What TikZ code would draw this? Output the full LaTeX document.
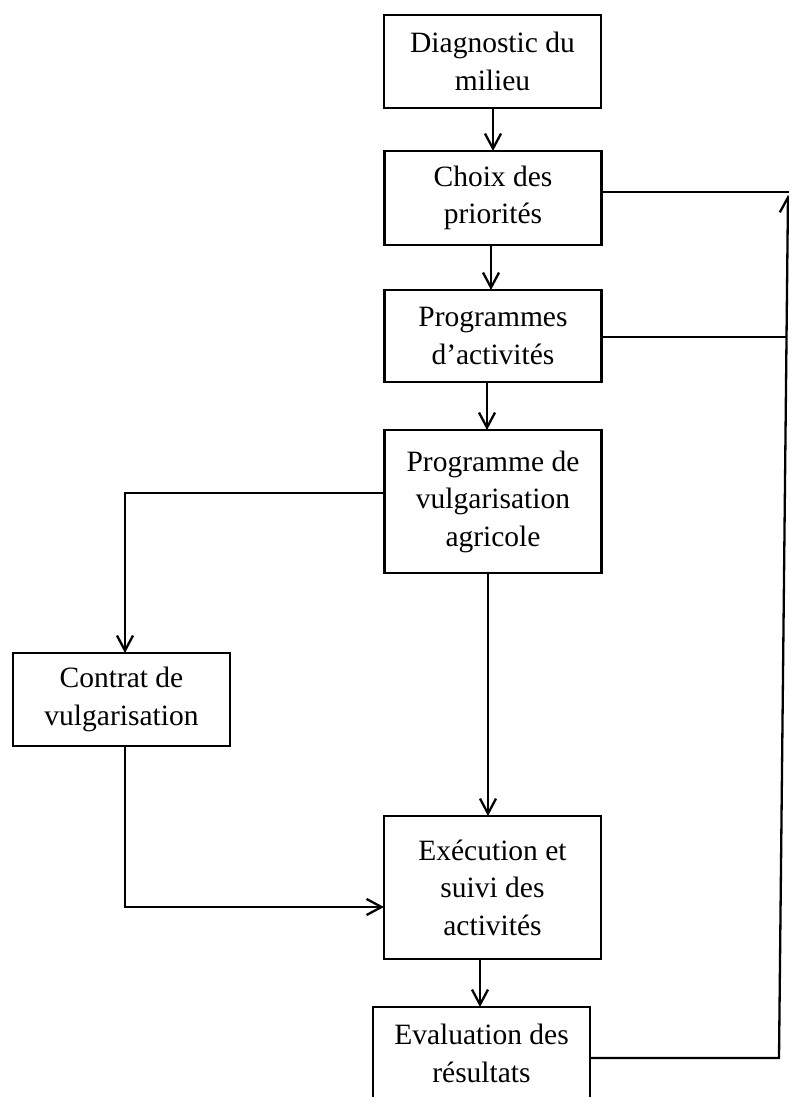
\documentclass[tikz,border=0pt]{standalone}
\usepackage{fontspec}
\setmainfont{Liberation Serif}
\usetikzlibrary{arrows.meta}
\begin{document}
\begin{tikzpicture}[x=1pt,y=-1pt,
  stepbox/.style={draw, line width=2.3pt, inner sep=0pt, outer sep=0pt,
    minimum width=217pt, align=center,
    font=\fontsize{29.5}{37.5}\selectfont},
  link/.style={line width=2.3pt},
  arr/.style={link, -{Straight Barb[length=15pt,width=16pt,line width=2.3pt]}}]
\useasboundingbox (0,0) rectangle (789,1097);

% boxes of the flow
\node[stepbox, minimum height=93pt]  (diag) at (492.5,61.5)  {Diagnostic du\\milieu};
\node[stepbox, minimum height=94pt]  (choix) at (493,198)    {Choix des\\priorités};
\node[stepbox, minimum height=92pt]  (prog) at (493,336)     {Programmes\\d’activités};
\node[stepbox, minimum height=143pt] (vulg) at (493,501.5)   {Programme de\\vulgarisation\\agricole};
\node[stepbox, minimum height=93pt]  (contrat) at (121.5,699.5) {Contrat de\\vulgarisation};
\node[stepbox, minimum height=143pt] (exec) at (492.5,887.5) {Exécution et\\suivi des\\activités};
\node[stepbox, minimum height=93pt]  (eval) at (481.5,1053.5) {Evaluation des\\résultats};

% helper points for the connectors
\coordinate (a1) at (493,0);
\coordinate (a2) at (491,0);
\coordinate (a3) at (487,0);
\coordinate (a4) at (488,0);
\coordinate (a5) at (480,0);
\coordinate (r2) at (789,192);
\coordinate (r3) at (787,337);
\coordinate (l4) at (125,493);
\coordinate (c5) at (125,907);
\coordinate (fb1) at (779,1058);
\coordinate (fb2) at (788,195);

% main chain
\draw[arr] (a1 |- diag.south)  -- (a1 |- choix.north);
\draw[arr] (a2 |- choix.south) -- (a2 |- prog.north);
\draw[arr] (a3 |- prog.south)  -- (a3 |- vulg.north);
\draw[arr] (a4 |- vulg.south)  -- (a4 |- exec.north);
\draw[arr] (a5 |- exec.south)  -- (a5 |- eval.north);

% side branch through the contract
\draw[arr] (l4 -| vulg.west) -- (l4) -- (l4 |- contrat.north);
\draw[arr] (c5 |- contrat.south) -- (c5) -- (c5 -| exec.west);

% feedback loop on the right
\draw[link] (r2 -| choix.east) -- (r2);
\draw[link] (r3 -| prog.east) -- (r3);
\draw[arr] (fb1 -| eval.east) -- (fb1) -- (fb2);
\end{tikzpicture}
\end{document}
